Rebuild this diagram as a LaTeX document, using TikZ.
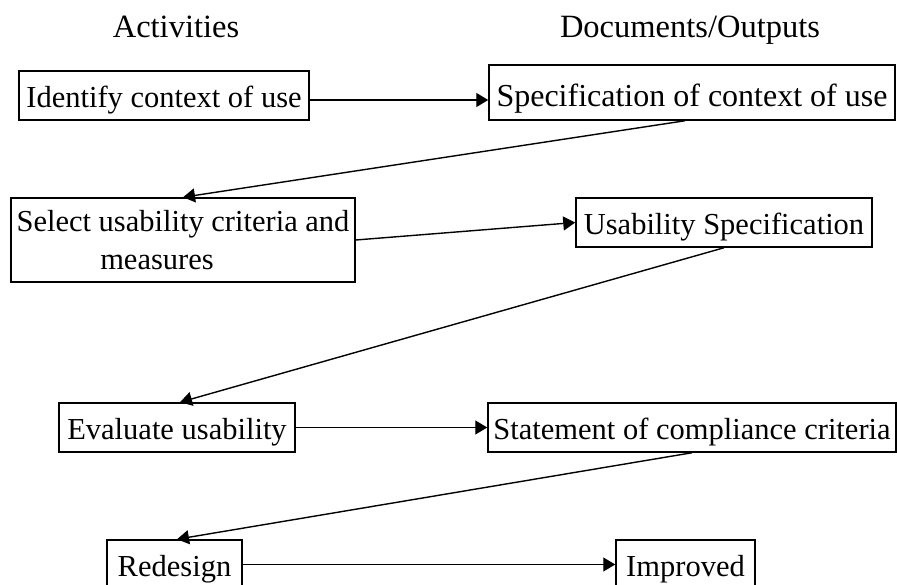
\documentclass[tikz,border=0pt]{standalone}
\usepackage{fontspec}
\setmainfont{Liberation Serif}
\usetikzlibrary{arrows.meta}
\begin{document}
\begin{tikzpicture}[x=1pt,y=-1pt,
  box/.style={draw, line width=1.5pt, inner sep=0pt, font=\fontsize{30.5}{38}\selectfont},
  oneline/.style={box, text height=24pt, text depth=0pt},
  head/.style={inner sep=0pt, anchor=base, font=\fontsize{32.5}{39}\selectfont},
  arr/.style={-{Triangle[length=12pt,width=14pt]}, line width=1.4pt}]
\clip (0,0) rectangle (897,585);
\fill[white] (0,0) rectangle (897,585);

% column headings
\node[head] (h1) at (176,38) {Activities};
\node[head] (h2) at (690,38) {Documents/Outputs};

% activities (left) and their outputs (right)
\node[oneline, minimum width=290pt, minimum height=49pt] (b1) at (164,95.5) {Identify context of use};
\node[box, font=\fontsize{32}{38}\selectfont, text height=29pt, text depth=0pt,
      minimum width=406pt, minimum height=55pt] (b2) at (692,92.5) {Specification of context of use};
\node[box, align=center, minimum width=344pt, minimum height=84pt] (b3) at (183,240)
  {Select usability criteria and\\measures\hspace*{52pt}};
\node[oneline, minimum width=296pt, minimum height=49pt] (b4) at (724,222.5) {Usability Specification};
\node[oneline, minimum width=236pt, minimum height=49pt] (b5) at (177,427.5) {Evaluate usability};
\node[oneline, minimum width=408pt, minimum height=49pt] (b6) at (692,427.5) {Statement of compliance criteria};
\node[oneline, minimum width=135pt, minimum height=49pt] (b7) at (174.5,564.5) {Redesign};
\node[oneline, minimum width=139pt, minimum height=49pt] (b8) at (685.5,564.5) {Improved};

% flow
\draw[arr] ([yshift=-4.5pt]b1.east) -- ([yshift=-4.5pt]b1.east -| b2.west);
\draw[arr] ([xshift=-7pt]b2.south) -- (b3.north);
\draw[arr] (b3.east) -- (b4.west);
\draw[arr] (b4.south) -- ([xshift=3pt]b5.north);
\draw[arr] (b5.east) -- (b6.west);
\draw[arr] (b6.south) -- ([xshift=2.5pt]b7.north);
\draw[arr] (b7.east) -- (b8.west);
\end{tikzpicture}
\end{document}
